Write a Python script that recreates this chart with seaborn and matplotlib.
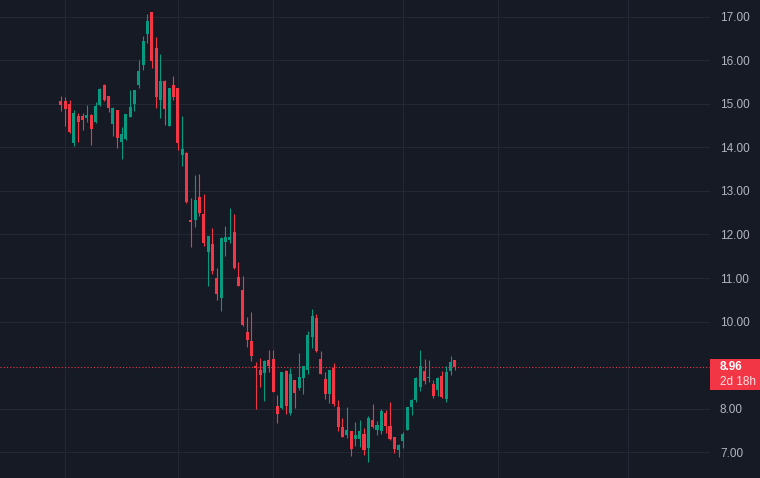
import matplotlib
matplotlib.use("Agg")
import matplotlib.pyplot as plt
import matplotlib.transforms as mtransforms
from matplotlib.patches import Rectangle
import pandas as pd
import seaborn as sns

bg = "#161A25"
grid_col = "#242834"
up_col = "#089981"
down_col = "#F23645"

sns.set_theme(style="darkgrid", rc={
    "axes.facecolor": bg,
    "figure.facecolor": bg,
    "grid.color": grid_col,
    "grid.linewidth": 0.8,
})
plt.rcParams["font.family"] = ["Liberation Sans", "DejaVu Sans"]

opens = [15.07, 15.07, 15.00, 14.10, 14.72, 14.72, 14.67, 14.74, 14.58, 14.97,
         15.43, 15.18, 14.54, 14.86, 14.12, 14.19, 14.70, 15.00, 15.43, 15.89,
         16.60, 17.11, 16.28, 15.09, 15.52, 14.49, 15.43, 15.36, 13.82, 13.87,
         12.34, 12.33, 12.86, 12.47, 11.60, 11.78, 11.00, 10.54, 11.83, 11.87,
         12.06, 11.02, 10.73, 9.76, 9.56, 8.98, 8.89, 8.82, 9.12, 9.14,
         8.06, 8.02, 8.87, 7.90, 8.66, 8.48, 8.71, 8.89, 9.65, 10.08,
         9.14, 8.68, 8.34, 8.94, 8.04, 7.58, 7.40, 7.49, 7.31, 7.31,
         7.42, 7.10, 7.74, 7.51, 7.49, 7.90, 7.60, 7.35, 7.05, 7.26,
         7.51, 8.04, 8.20, 8.50, 8.87, 8.71, 8.57, 8.43, 8.75, 8.22,
         8.87, 9.12]
highs = [15.18, 15.16, 15.09, 14.86, 14.79, 14.79, 14.97, 14.77, 15.04, 15.36,
         15.46, 15.18, 14.93, 14.86, 14.47, 14.77, 15.32, 15.32, 16.01, 16.56,
         17.06, 17.11, 16.53, 16.14, 15.55, 15.36, 15.64, 15.36, 14.72, 13.90,
         12.84, 13.37, 13.39, 12.93, 11.97, 12.15, 11.23, 11.94, 12.20, 12.61,
         12.47, 11.37, 11.05, 10.11, 10.22, 9.07, 9.17, 9.12, 9.35, 9.35,
         8.32, 8.84, 8.89, 8.94, 8.66, 9.28, 8.98, 9.79, 10.29, 10.18,
         9.33, 8.84, 8.89, 9.05, 8.20, 7.79, 8.04, 7.49, 7.70, 7.74,
         7.56, 7.83, 8.11, 7.72, 7.99, 7.97, 8.16, 7.35, 7.19, 7.47,
         8.04, 8.22, 8.73, 9.35, 9.14, 9.12, 8.66, 8.73, 8.87, 8.98,
         9.21, 9.12]
lows = [14.84, 14.49, 14.34, 14.03, 14.12, 14.40, 14.58, 14.05, 14.56, 14.95,
        15.06, 14.81, 14.26, 13.99, 13.73, 14.17, 14.70, 14.84, 15.36, 15.78,
        16.40, 15.82, 14.90, 14.67, 14.51, 14.49, 15.09, 13.94, 13.57, 12.72,
        11.72, 12.18, 12.43, 11.74, 10.82, 11.09, 10.50, 10.24, 11.51, 11.81,
        11.21, 10.82, 9.90, 9.42, 9.10, 7.99, 8.50, 8.18, 8.84, 8.38,
        7.67, 7.99, 7.88, 7.86, 8.02, 8.43, 8.34, 8.80, 9.40, 9.30,
        8.80, 8.22, 8.13, 8.06, 7.49, 7.35, 7.33, 6.92, 7.15, 7.12,
        6.94, 6.78, 7.56, 7.40, 7.42, 7.44, 7.28, 6.98, 6.89, 7.10,
        7.51, 7.86, 8.16, 8.41, 8.57, 8.61, 8.25, 8.29, 8.25, 8.16,
        8.78, 8.89]
closes = [14.97, 14.88, 14.35, 14.79, 14.58, 14.63, 14.74, 14.42, 14.95, 15.34,
          15.09, 14.90, 14.90, 14.22, 14.31, 14.77, 14.93, 15.32, 15.75, 16.44,
          16.90, 15.98, 15.16, 15.52, 14.88, 15.36, 15.16, 14.10, 13.96, 12.75,
          12.29, 12.79, 12.49, 11.81, 11.97, 11.16, 10.63, 11.92, 11.94, 11.94,
          11.23, 10.82, 9.92, 9.58, 9.21, 8.94, 8.78, 9.10, 8.98, 8.38,
          7.88, 8.84, 8.06, 8.80, 8.36, 8.73, 8.98, 9.69, 10.13, 9.33,
          8.80, 8.34, 8.89, 8.11, 7.58, 7.35, 7.51, 7.08, 7.40, 7.49,
          7.05, 7.79, 7.58, 7.63, 7.95, 7.60, 7.31, 7.08, 7.17, 7.42,
          8.04, 8.20, 8.71, 8.98, 8.64, 8.73, 8.29, 8.71, 8.27, 8.84,
          9.07, 8.96]

# 9.00 is hidden behind the last-price tag
price_ticks = [7, 8, 10, 11, 12, 13, 14, 15, 16, 17]
month_starts = [1, 27, 49, 79, 101, 131]
countdown = "2d 18h"

df = pd.DataFrame({"open": opens, "high": highs, "low": lows, "close": closes})
df["idx"] = range(len(df))
df["color"] = [up_col if c >= o else down_col for o, c in zip(df.open, df.close)]
body = df.close - df.open
body = body.where(body.abs() >= 0.025, 0.025)

fig = plt.figure(figsize=(7.6, 4.78), dpi=100)
ax = fig.add_axes([0, 0, 710 / 760, 1])

ax.vlines(df.idx, df.low, df.high, colors=df.color, linewidth=0.8, zorder=3)
ax.bar(df.idx, body, bottom=df.open, width=0.7, color=df.color, linewidth=0, zorder=4)

last = closes[-1]
ax.axhline(last, color=down_col, linestyle=(0, (1, 1.9)), linewidth=0.8, zorder=2)

ax.set_xlim(-14.06, 149.9)
ax.set_ylim(6.41, 17.383)
ax.set_yticks(price_ticks)
ax.set_yticklabels([f"{v:.2f}" for v in price_ticks])
ax.yaxis.tick_right()
ax.tick_params(axis="y", length=0, pad=7.2, labelsize=8.5, labelcolor="#B2B5BE")
ax.set_xticks(month_starts)
ax.set_xticklabels([])
ax.tick_params(axis="x", length=0)
ax.grid(True, color=grid_col, linewidth=0.8)
for s in ax.spines.values():
    s.set_visible(False)

# last price tag on the price scale
trans = mtransforms.blended_transform_factory(ax.transAxes, ax.transData)
ax.add_patch(Rectangle((1.0, last - 0.528), 50 / 710, 0.712, transform=trans,
                       facecolor=down_col, edgecolor="none", clip_on=False, zorder=5))
ax.text(1 + 10 / 710, last, f"{last:.2f}", transform=trans, va="center", ha="left",
        color="white", fontsize=8.5, fontweight="bold", zorder=6)
ax.text(1 + 10 / 710, last - 0.345, countdown, transform=trans, va="center", ha="left",
        color="#FBE3E6", fontsize=8.5, zorder=6)

fig.savefig("out.png", dpi=100, facecolor=bg)
